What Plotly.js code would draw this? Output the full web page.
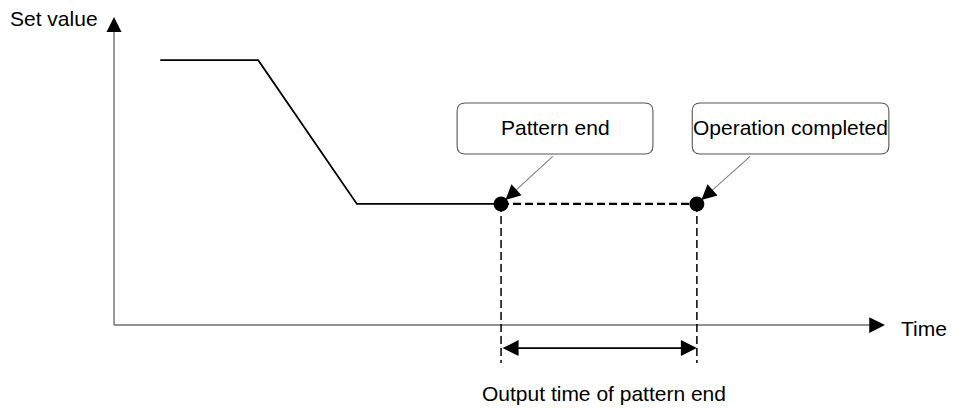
<!DOCTYPE html>
<html>
<head>
<meta charset="utf-8">
<script src="https://cdn.plot.ly/plotly-3.0.1.min.js"></script>
<style>
html, body { margin: 0; padding: 0; background: #fff; }
#chart { width: 957px; height: 408px; }
</style>
</head>
<body>
<div id="chart"></div>
<script>
// set value profile
var profileTime = [6, 18.7, 31.5, 50.2];
var profileValue = [86, 86, 39.3, 39.3];

// pattern end -> operation completed
var eventNames = ['Pattern end', 'Operation completed'];
var eventTime = [50.2, 75.6];
var eventValue = [39.3, 39.3];

var axisLabels = ['Set value', 'Time'];
var spanLabel = 'Output time of pattern end';

var FONT = 'Liberation Sans, Arial, sans-serif';
var AXIS_GRAY = '#6e6e6e';

function roundBox(x0, x1, y0, y1) {
    var rx = 1.05, ry = 2.6;
    return 'M' + (x0 + rx) + ',' + y1 +
        ' L' + (x1 - rx) + ',' + y1 +
        ' Q' + x1 + ',' + y1 + ' ' + x1 + ',' + (y1 - ry) +
        ' L' + x1 + ',' + (y0 + ry) +
        ' Q' + x1 + ',' + y0 + ' ' + (x1 - rx) + ',' + y0 +
        ' L' + (x0 + rx) + ',' + y0 +
        ' Q' + x0 + ',' + y0 + ' ' + x0 + ',' + (y0 + ry) +
        ' L' + x0 + ',' + (y1 - ry) +
        ' Q' + x0 + ',' + y1 + ' ' + (x0 + rx) + ',' + y1 + ' Z';
}

var profile = {
    x: profileTime, y: profileValue,
    type: 'scatter', mode: 'lines',
    line: {color: '#000', width: 1.8},
    hoverinfo: 'skip'
};
var hold = {
    x: eventTime, y: eventValue,
    type: 'scatter', mode: 'lines',
    line: {color: '#000', width: 2.2, dash: '8px,4px'},
    hoverinfo: 'skip'
};
var dots = {
    x: eventTime, y: eventValue,
    type: 'scatter', mode: 'markers',
    marker: {color: '#000', size: 15},
    hoverinfo: 'skip'
};

var shapes = [
    {type: 'line', x0: 0, x1: 0, y0: 0, y1: 97, line: {color: AXIS_GRAY, width: 1.4}},
    {type: 'line', x0: 0, x1: 98, y0: 0, y1: 0, line: {color: AXIS_GRAY, width: 1.4}}
];
var boxX = [[44.5, 69.9], [75.0, 100.5]];
var leaderTail = [[57.1, 55.2], [82.7, 55.2]];
var headDir = [[10.3, -9.5], [10.4, -9.3]];
var annotations = [];

for (var i = 0; i < eventTime.length; i++) {
    shapes.push({type: 'line', x0: eventTime[i], x1: eventTime[i], y0: eventValue[i], y1: -12.3,
        line: {color: '#000', width: 1.5, dash: '8px,4px'}});
    shapes.push({type: 'path', path: roundBox(boxX[i][0], boxX[i][1], 55.5, 72.1),
        line: {color: '#555', width: 1.1}, fillcolor: 'rgba(0,0,0,0)'});
    annotations.push({x: (boxX[i][0] + boxX[i][1]) / 2, y: 64, text: eventNames[i], showarrow: false,
        font: {family: FONT, size: 21, color: '#000'}, xanchor: 'center', yanchor: 'middle'});
    annotations.push({x: eventTime[i], y: eventValue[i], ax: leaderTail[i][0], ay: leaderTail[i][1],
        axref: 'x', ayref: 'y', text: '', showarrow: true, arrowhead: 0, arrowwidth: 1.1,
        arrowcolor: '#808080', standoff: 14});
    annotations.push({x: eventTime[i], y: eventValue[i], ax: headDir[i][0], ay: headDir[i][1],
        text: '', showarrow: true, arrowhead: 2, arrowwidth: 1.5, arrowsize: 2,
        arrowcolor: '#000', standoff: 6});
}

// axis arrow heads
annotations.push({x: 0, y: 100, ax: 0, ay: 10, text: '', showarrow: true, arrowhead: 2,
    arrowwidth: 1.5, arrowsize: 2, arrowcolor: '#000'});
annotations.push({x: 100, y: 0, ax: -10, ay: 0, text: '', showarrow: true, arrowhead: 2,
    arrowwidth: 1.5, arrowsize: 2.1, arrowcolor: '#000'});
// span arrow
annotations.push({x: eventTime[1], y: -7.5, ax: eventTime[0], ay: -7.5, axref: 'x', ayref: 'y',
    text: '', showarrow: true, arrowside: 'end+start', arrowhead: 2, startarrowhead: 2,
    arrowwidth: 1.6, arrowsize: 2, startarrowsize: 2, arrowcolor: '#000'});

annotations.push({x: -1.8, y: 99.5, text: axisLabels[0], showarrow: false, xanchor: 'right',
    yanchor: 'middle', font: {family: FONT, size: 21, color: '#000'}});
annotations.push({x: 101.8, y: -1, text: axisLabels[1], showarrow: false, xanchor: 'left',
    yanchor: 'middle', font: {family: FONT, size: 21, color: '#000'}});
annotations.push({x: 63.6, y: -22.4, text: spanLabel, showarrow: false, xanchor: 'center',
    yanchor: 'middle', font: {family: FONT, size: 21, color: '#000'}});

var layout = {
    width: 957, height: 408,
    margin: {l: 0, r: 0, t: 0, b: 0},
    paper_bgcolor: '#fff', plot_bgcolor: '#fff',
    showlegend: false,
    xaxis: {range: [-14.79, 109.34], showgrid: false, zeroline: false, showticklabels: false, showline: false, fixedrange: true},
    yaxis: {range: [-26.95, 105.52], showgrid: false, zeroline: false, showticklabels: false, showline: false, fixedrange: true},
    shapes: shapes,
    annotations: annotations
};

Plotly.newPlot('chart', [profile, hold, dots], layout, {displayModeBar: false, staticPlot: true});
</script>
</body>
</html>
